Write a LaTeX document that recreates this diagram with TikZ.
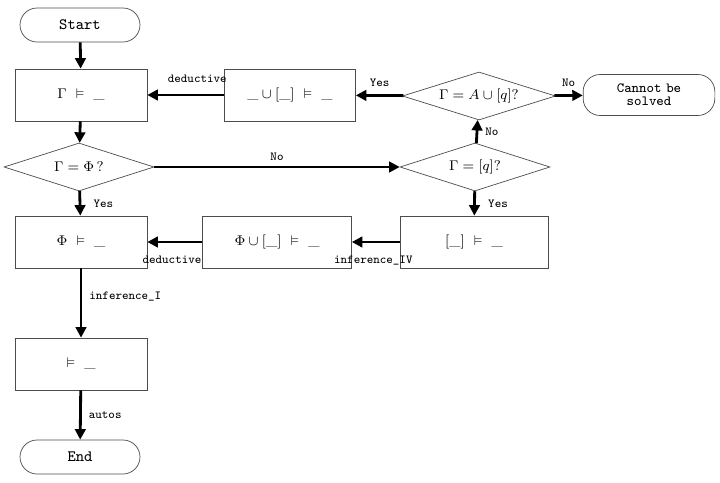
\documentclass[tikz,border=0pt]{standalone}
\usepackage{amssymb}
\usetikzlibrary{shapes.geometric,arrows.meta}
\begin{document}
\begin{tikzpicture}
[x=0.02cm,y=-0.02cm,%
  box/.style={shape=rectangle,draw=black!70,minimum width=2.64cm,minimum height=1.04cm,font=\footnotesize},%
  term/.style={shape=rectangle,rounded corners=0.34cm,draw=black!70,minimum width=2.4cm,minimum height=0.68cm,font=\ttfamily\small},%
  test/.style={shape=diamond,draw=black!70,aspect=3.1,inner sep=0pt,minimum width=3cm,minimum height=0.96cm,font=\footnotesize},%
  flow/.style={-{Triangle[length=6pt,width=6pt]},line width=1.6pt},%
  lbl/.style={font=\ttfamily\scriptsize,inner sep=1pt}]
\useasboundingbox (0,0) rectangle (720,483);
\node[term] (start) at (80,25) {Start};
\node[box] (gam) at (81,95) {$\Gamma\ \vDash\ \_$};
\node[box,minimum width=2.62cm] (uni) at (290,95) {$\_\cup[\_]\ \vDash\ \_$};
\node[test,minimum width=3.06cm] (isaq) at (479,96) {$\Gamma=A\cup[q]?$};
\node[term,minimum width=2.58cm,minimum height=0.82cm,align=center,
  font=\ttfamily\footnotesize,text width=2.4cm] (fail) at (649,95) {Cannot be\\[-2pt]solved};
\node[test] (isphi) at (79,167) {$\Gamma=\Phi\,?$};
\node[test] (isq) at (475,167) {$\Gamma=[q]?$};
\node[box] (phi) at (81,242) {$\Phi\ \vDash\ \_$};
\node[box,minimum width=2.98cm] (phiu) at (277,242) {$\Phi\cup[\_]\ \vDash\ \_$};
\node[box,minimum width=2.96cm] (sq) at (474,242) {$[\_]\ \vDash\ \_$};
\node[box] (emp) at (81,364) {$\vDash\ \_$};
\node[term] (end) at (80,457) {End};
% connectors
\draw[flow] (start) -- (gam);
\draw[flow] (uni) -- (gam) node[lbl,pos=0.35,above=5pt] {deductive};
\draw[flow] (isaq) -- (uni) node[lbl,midway,above=3pt] {Yes};
\draw[flow] (isaq) -- (fail) node[lbl,midway,above=3pt] {No};
\draw[flow] (gam) -- (isphi);
\draw[flow] (isphi) -- (isq) node[lbl,midway,above=2pt] {No};
\draw[flow] (isq) -- (isaq) node[lbl,midway,right=3pt] {No};
\draw[flow] (isphi) -- (phi) node[lbl,midway,right=6pt] {Yes};
\draw[flow] (isq) -- (sq) node[lbl,midway,right=6pt] {Yes};
\draw[flow] (sq) -- (phiu) node[lbl,pos=0.55,below=6pt] {inference\_IV};
\draw[flow] (phiu) -- (phi) node[lbl,pos=0.55,below=6pt] {deductive};
\draw[flow] (phi) -- (emp) node[lbl,pos=0.4,right=3pt] {inference\_I};
\draw[flow] (emp) -- (end) node[lbl,midway,right=3pt] {autos};
\end{tikzpicture}
\end{document}
